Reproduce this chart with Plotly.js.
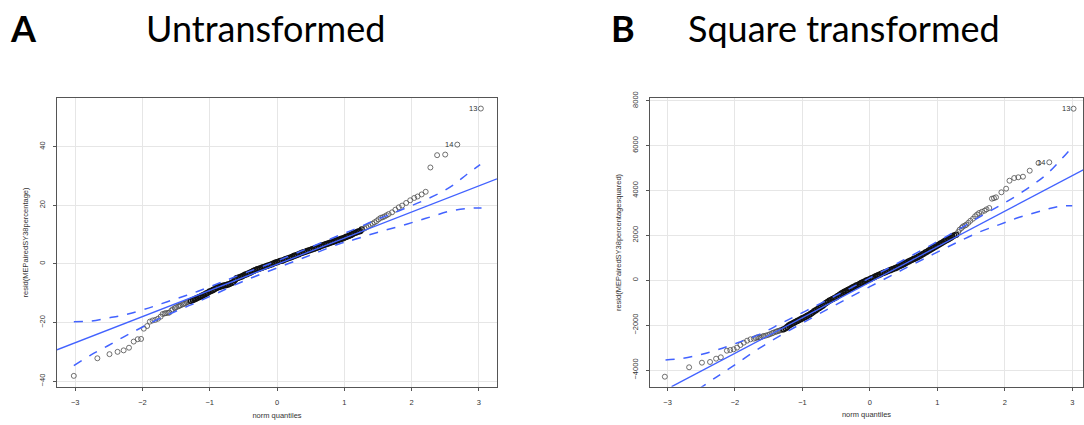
<!DOCTYPE html>
<html>
<head>
<meta charset="utf-8">
<script src="https://cdn.plot.ly/plotly-3.0.1.min.js"></script>
<style>html,body{margin:0;padding:0;background:#fff;}#chart{width:1084px;height:425px;}</style>
</head>
<body>
<div id="chart"></div>
<script>
// ---------- Panel A: Untransformed (theoretical norm quantile, residual) ----------
const qA_x = [-3.02,-2.67,-2.49,-2.37,-2.28,-2.20,-2.13,-2.07,-2.02,-1.98,-1.93,-1.89,-1.85,-1.81,-1.77,-1.73,-1.70,-1.67,-1.65,-1.62,-1.60,-1.57,-1.55,-1.52,-1.50,-1.47,-1.45,-1.43,-1.40,-1.38,-1.36,-1.34,-1.32,-1.30,-1.28,
-1.25,-1.225,-1.2,-1.175,-1.15,-1.125,-1.1,-1.075,-1.05,-1.025,-1.0,-0.975,-0.95,-0.925,-0.9,-0.875,-0.85,-0.825,-0.8,-0.775,-0.75,-0.725,-0.7,-0.675,-0.65,-0.625,-0.6,-0.575,-0.55,-0.525,-0.5,-0.475,-0.45,-0.425,-0.4,-0.375,-0.35,-0.325,-0.3,-0.275,-0.25,-0.225,-0.2,-0.175,-0.15,-0.125,-0.1,-0.075,-0.05,-0.025,0,
0.025,0.05,0.075,0.1,0.125,0.15,0.175,0.2,0.225,0.25,0.275,0.3,0.325,0.35,0.375,0.4,0.425,0.45,0.475,0.5,0.525,0.55,0.575,0.6,0.625,0.65,0.675,0.7,0.725,0.75,0.775,0.8,0.825,0.85,0.875,0.9,0.925,0.95,0.975,1.0,1.025,1.05,1.075,1.1,1.125,1.15,1.175,1.2,1.22,
1.24,1.26,1.30,1.33,1.36,1.39,1.42,1.45,1.48,1.51,1.54,1.57,1.60,1.63,1.66,1.71,1.76,1.81,1.86,1.92,1.98,2.04,2.09,2.15,2.21,2.28,2.38,2.50,2.68,3.03];
const qA_y = [-38.2,-32.2,-30.8,-30.0,-29.5,-28.6,-26.5,-25.7,-25.6,-22.1,-21.2,-19.7,-19.3,-19.1,-18.7,-18.0,-17.1,-16.9,-16.8,-16.7,-16.6,-15.9,-15.5,-15.1,-14.8,-14.5,-14.3,-14.1,-13.8,-13.6,-13.4,-13.1,-12.9,-12.7,-12.6,
-12.3,-12.1,-11.8,-11.5,-11.3,-11.0,-10.7,-10.4,-10.1,-9.8,-9.4,-9.2,-8.9,-8.6,-8.2,-8.0,-7.8,-7.6,-7.4,-7.3,-7.2,-7.0,-6.8,-6.5,-6.2,-5.5,-4.9,-4.7,-4.5,-4.3,-4.0,-3.7,-3.5,-3.2,-3.0,-2.7,-2.4,-2.1,-1.9,-1.7,-1.5,-1.3,-1.1,-0.9,-0.7,-0.5,-0.3,-0.1,0.2,0.4,0.6,
0.8,1.0,1.1,1.3,1.6,1.8,2.0,2.2,2.4,2.7,2.9,3.1,3.3,3.6,3.8,4.0,4.2,4.4,4.6,4.8,5.0,5.2,5.4,5.6,5.8,6.1,6.3,6.5,6.7,6.9,7.1,7.3,7.5,7.7,7.9,8.1,8.3,8.5,8.7,8.9,9.2,9.4,9.6,9.9,10.2,10.5,10.7,11.0,11.1,
11.2,11.8,12.1,12.5,12.9,13.3,13.7,14.2,14.6,15.2,15.7,15.9,16.2,16.6,17.0,17.6,18.5,19.3,19.9,20.8,21.7,22.5,23.0,23.7,24.6,32.9,37.1,37.3,40.7,53.0];
const fitA_x = [-3.27, 3.27];
const fitA_y = [-29.3, 29.0];
const upA_x = [-3.02,-2.77,-2.52,-2.27,-1.97,-1.63,-1.28,-0.93,-0.5,0,0.5,0.93,1.19,1.43,1.68,1.93,2.18,2.42,2.62,2.82,3.02];
const upA_y = [-19.7,-19.5,-18.5,-17.4,-15.5,-12.9,-10.2,-7.2,-3.3,1.0,5.7,9.8,12.2,14.6,16.9,19.2,21.6,24.2,26.9,30.5,33.9];
const loA_x = [-3.02,-2.77,-2.52,-2.27,-1.97,-1.63,-1.28,-0.93,-0.5,0,0.5,0.93,1.09,1.34,1.58,1.83,2.08,2.32,2.57,2.82,3.04];
const loA_y = [-34.7,-31.1,-28.0,-24.8,-21.2,-17.4,-14.0,-10.4,-5.9,-1.4,3.0,6.9,7.9,9.7,11.3,12.9,14.6,16.3,18.0,18.9,19.1];
const ticksA_x = [-3,-2,-1,0,1,2,3];
const ticksA_y = [-40,-20,0,20,40];

// ---------- Panel B: Square transformed ----------
const qB_x = [-3.04,-2.68,-2.49,-2.37,-2.28,-2.21,-2.12,-2.07,-2.02,-1.97,-1.92,-1.87,-1.82,-1.77,-1.72,-1.69,-1.67,-1.64,-1.62,-1.59,-1.57,-1.54,-1.51,-1.48,-1.45,-1.43,-1.40,-1.38,-1.36,-1.34,-1.32,-1.30,-1.28,
-1.25,-1.225,-1.2,-1.175,-1.15,-1.125,-1.1,-1.075,-1.05,-1.025,-1.0,-0.975,-0.95,-0.925,-0.9,-0.875,-0.85,-0.825,-0.8,-0.775,-0.75,-0.725,-0.7,-0.675,-0.65,-0.625,-0.6,-0.575,-0.55,-0.525,-0.5,-0.475,-0.45,-0.425,-0.4,-0.375,-0.35,-0.325,-0.3,-0.275,-0.25,-0.225,-0.2,-0.175,-0.15,-0.125,-0.1,-0.075,-0.05,-0.025,0,
0.025,0.05,0.075,0.1,0.125,0.15,0.175,0.2,0.225,0.25,0.275,0.3,0.325,0.35,0.375,0.4,0.425,0.45,0.475,0.5,0.525,0.55,0.575,0.6,0.625,0.65,0.675,0.7,0.725,0.75,0.775,0.8,0.825,0.85,0.875,0.9,0.925,0.95,0.975,1.0,1.025,1.05,1.075,1.1,1.125,1.15,1.175,1.2,1.225,1.25,
1.28,1.31,1.33,1.36,1.38,1.41,1.43,1.46,1.49,1.53,1.56,1.59,1.62,1.66,1.70,1.73,1.77,1.81,1.84,1.87,1.95,2.02,2.07,2.14,2.20,2.27,2.37,2.50,2.66,3.02];
const qB_y = [-4294,-3875,-3670,-3639,-3492,-3430,-3136,-3105,-3074,-3000,-2882,-2778,-2690,-2628,-2600,-2570,-2540,-2545,-2540,-2500,-2481,-2460,-2436,-2400,-2360,-2333,-2300,-2280,-2258,-2240,-2220,-2200,-2183,
-2140,-2080,-2010,-1970,-1930,-1890,-1850,-1810,-1770,-1730,-1690,-1660,-1620,-1580,-1540,-1490,-1440,-1380,-1330,-1280,-1230,-1180,-1130,-1070,-1010,-960,-910,-870,-830,-790,-750,-700,-650,-600,-550,-510,-470,-430,-390,-350,-310,-270,-230,-200,-160,-120,-80,-50,-10,20,50,
90,120,160,200,230,260,300,330,360,390,420,450,480,510,540,570,610,650,680,720,760,800,840,880,910,950,980,1020,1060,1100,1150,1190,1240,1280,1330,1370,1420,1460,1510,1550,1590,1640,1680,1730,1770,1810,1850,1900,1950,2000,
2031,2150,2254,2330,2400,2440,2477,2560,2650,2744,2850,2930,2998,3050,3100,3160,3220,3635,3660,3697,3920,4080,4436,4556,4588,4615,4882,5225,5256,7644];
const fitB_x = [-2.94, 3.17];
const fitB_y = [-4739, 4926];
const upB_x = [-3.03,-2.77,-2.53,-2.27,-1.98,-1.63,-1.28,-0.94,-0.5,0,0.5,0.94,1.28,1.63,1.92,2.17,2.42,2.62,2.81,3.01];
const upB_y = [-3550,-3474,-3327,-3105,-2806,-2400,-1860,-1350,-675,105,905,1625,2200,2830,3320,3760,4260,4720,5300,5968];
const loB_x = [-2.55,-2.27,-1.98,-1.63,-1.28,-0.94,-0.5,0,0.5,0.94,1.28,1.63,1.92,2.17,2.42,2.62,2.81,3.00];
const loB_y = [-4870,-4300,-3720,-3010,-2380,-1805,-1085,-285,495,1165,1670,2160,2480,2760,2990,3160,3296,3323];
const ticksB_x = [-3,-2,-1,0,1,2,3];
const ticksB_y = [-4000,-2000,0,2000,4000,6000,8000];

const outlierIds = ['13','14'];   // labels of the two largest residuals

// ---------- styling ----------
const FONT = '"Liberation Sans", Arial, sans-serif';
const BLUE = '#4262ff';
const W = 1084, H = 425;

// where points pile up (|quantile| < 1.3) they overlap into a dark band in the original
function pointsTrace(x, y, xa, ya) {
  const dense = x.map(v => Math.abs(v) < 1.3);
  const col = dense.map(d => d ? '#111' : '#4d4d4d');
  const lw = dense.map(d => d ? 1.3 : 0.8);
  return {x, y, xaxis: xa, yaxis: ya, type: 'scatter', mode: 'markers', hoverinfo: 'skip',
    marker: {symbol: 'circle-open', size: 5, color: col, line: {width: lw, color: col}}};
}
function lineTrace(x, y, xa, ya, dash) {
  return {x, y, xaxis: xa, yaxis: ya, type: 'scatter', mode: 'lines', hoverinfo: 'skip',
    line: {color: BLUE, width: dash ? 1.5 : 1.3, dash: dash ? 'dash' : 'solid', shape: 'spline', smoothing: 1}};
}

const data = [
  pointsTrace(qA_x, qA_y, 'x', 'y'),
  lineTrace(fitA_x, fitA_y, 'x', 'y', false),
  lineTrace(upA_x, upA_y, 'x', 'y', true),
  lineTrace(loA_x, loA_y, 'x', 'y', true),
  pointsTrace(qB_x, qB_y, 'x2', 'y2'),
  lineTrace(fitB_x, fitB_y, 'x2', 'y2', false),
  lineTrace(upB_x, upB_y, 'x2', 'y2', true),
  lineTrace(loB_x, loB_y, 'x2', 'y2', true)
];

const tickFont = {family: FONT, size: 7.5, color: '#333'};
function xAxis(domain, range, tickvals, anchor) {
  return {domain, range, tickvals, anchor, showline: true, mirror: true, linecolor: '#555', linewidth: 1,
    ticks: 'outside', ticklen: 3, tickcolor: '#555', tickfont: tickFont, ticklabelstandoff: 5,
    showgrid: true, gridcolor: '#e6e6e6', gridwidth: 1, zeroline: false,
    title: {text: 'norm quantiles', font: {family: FONT, size: 7.5, color: '#333'}, standoff: 6}};
}
function yAxis(domain, range, tickvals, anchor, title) {
  return {domain, range, tickvals, anchor, showline: true, mirror: true, linecolor: '#555', linewidth: 1,
    ticks: 'outside', ticklen: 3, tickcolor: '#555', tickfont: tickFont, tickangle: -90, ticklabelstandoff: 5,
    showgrid: true, gridcolor: '#e6e6e6', gridwidth: 1, zeroline: false,
    title: {text: title, font: {family: FONT, size: 7.5, color: '#333'}, standoff: 8}};
}

const ann = [];
function header(px, text, bold) {
  ann.push({xref: 'paper', yref: 'paper', x: px / W, y: 1 - 28 / H, xanchor: 'left', yanchor: 'middle',
    showarrow: false, text: bold ? '<b>' + text + '</b>' : text,
    font: {family: 'Lato, "Open Sans", sans-serif', size: 36, color: '#000'}});
}
header(8, 'A', true);
header(144, 'Untransformed', false);
header(609, 'B', true);
header(686, 'Square transformed', false);

function outlierLabels(x, y, xa, ya) {
  const n = x.length;
  outlierIds.forEach((id, k) => {
    ann.push({xref: xa, yref: ya, x: x[n - 1 - k], y: y[n - 1 - k], xanchor: 'right', yanchor: 'middle',
      xshift: -2, showarrow: false, text: id, font: {family: FONT, size: 7.5, color: '#333'}});
  });
}
outlierLabels(qA_x, qA_y, 'x', 'y');
outlierLabels(qB_x, qB_y, 'x2', 'y2');

const layout = {
  width: W, height: H, margin: {l: 0, r: 0, t: 0, b: 0},
  paper_bgcolor: '#fff', plot_bgcolor: '#fff', showlegend: false,
  font: {family: FONT},
  xaxis: xAxis([57 / W, 497 / W], [-3.27, 3.27], ticksA_x, 'y'),
  yaxis: yAxis([1 - 387 / H, 1 - 98 / H], [-42, 56.6], ticksA_y, 'x', 'resid(MEPairedSY38percentage)'),
  xaxis2: xAxis([650 / W, 1083 / W], [-3.26, 3.16], ticksB_x, 'y2'),
  yaxis2: yAxis([1 - 386.7 / H, 1 - 98.3 / H], [-4740, 8107], ticksB_y, 'x2', 'resid(MEPairedSY38percentagesquared)'),
  annotations: ann
};

Plotly.newPlot('chart', data, layout, {staticPlot: true, displayModeBar: false});
</script>
</body>
</html>
